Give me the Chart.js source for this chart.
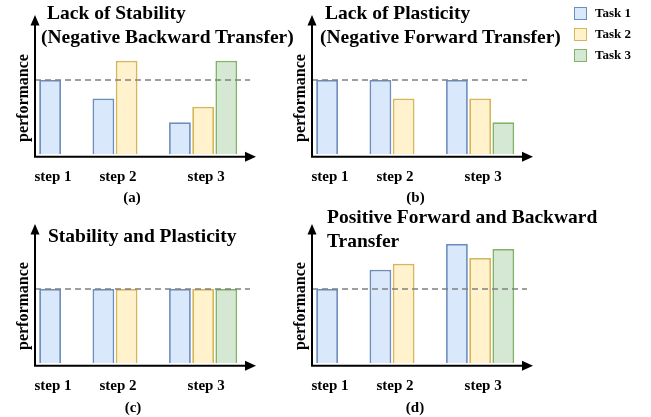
<!DOCTYPE html>
<html>
<head>
<meta charset="utf-8">
<script src="https://cdn.jsdelivr.net/npm/chart.js@4.4.1/dist/chart.umd.min.js"></script>
<style>
html,body{margin:0;padding:0;background:#fff;}
#wrap{position:relative;width:651px;height:417px;overflow:hidden;font-family:"Liberation Serif","Times New Roman",serif;font-weight:bold;color:#000;}
#wrap canvas{position:absolute;}
.t{position:absolute;white-space:nowrap;font-size:19.5px;line-height:24px;}
.c{position:absolute;white-space:nowrap;transform:translate(-50%,-50%);}
.ylab{font-size:16px;line-height:16px;transform:translate(-50%,-50%) rotate(-90deg);}
.cap{font-size:15px;line-height:15px;}
.lg{position:absolute;left:574px;height:20px;display:flex;align-items:center;font-size:13px;white-space:nowrap;}
.lg span.sw{display:inline-block;width:13px;height:13px;box-sizing:border-box;border:1.5px solid;margin-right:8px;}
</style>
</head>
<body>
<div id="wrap">
  <canvas id="cA" width="277" height="209" style="left:0;top:0"></canvas>
  <canvas id="cB" width="277" height="209" style="left:277px;top:0"></canvas>
  <canvas id="cC" width="277" height="209" style="left:0;top:209px"></canvas>
  <canvas id="cD" width="277" height="209" style="left:277px;top:209px"></canvas>

  <div class="t" style="left:47px;top:1px">Lack of Stability</div>
  <div class="t" style="left:41px;top:25px">(Negative Backward Transfer)</div>
  <div class="t" style="left:325px;top:1px">Lack of Plasticity</div>
  <div class="t" style="left:320px;top:25px">(Negative Forward Transfer)</div>
  <div class="t" style="left:48px;top:224px">Stability and Plasticity</div>
  <div class="t" style="left:327px;top:205px">Positive Forward and Backward</div>
  <div class="t" style="left:327px;top:229px">Transfer</div>

  <div class="c ylab" style="left:23px;top:97.5px">performance</div>
  <div class="c ylab" style="left:300px;top:97.5px">performance</div>
  <div class="c ylab" style="left:23px;top:306px">performance</div>
  <div class="c ylab" style="left:300px;top:306px">performance</div>

  <div class="c cap" style="left:132px;top:197px">(a)</div>
  <div class="c cap" style="left:415.5px;top:197px">(b)</div>
  <div class="c cap" style="left:133px;top:406.5px">(c)</div>
  <div class="c cap" style="left:415px;top:406.5px">(d)</div>

  <div id="legend"></div>
</div>
<script>
// ---- data ----
const stepLabels = ['step 1', 'step 2', 'step 3'];
const taskNames = ['Task 1', 'Task 2', 'Task 3'];
const referenceLevel = 1.0; // dashed line: performance right after learning a task

// (a) Lack of Stability
const perfA_task1 = [1.00, 0.75, 0.43];
const perfA_task2 = [null, 1.26, 0.64];
const perfA_task3 = [null, null, 1.26];
// (b) Lack of Plasticity
const perfB_task1 = [1.00, 1.00, 1.00];
const perfB_task2 = [null, 0.75, 0.75];
const perfB_task3 = [null, null, 0.43];
// (c) Stability and Plasticity
const perfC_task1 = [1.00, 1.00, 1.00];
const perfC_task2 = [null, 1.00, 1.00];
const perfC_task3 = [null, null, 1.00];
// (d) Positive Forward and Backward Transfer
const perfD_task1 = [1.00, 1.26, 1.61];
const perfD_task2 = [null, 1.34, 1.42];
const perfD_task3 = [null, null, 1.54];

// ---- styles ----
const fillColors = ['#dae8fc', '#fff2cc', '#d5e8d4'];
const borderColors = ['#6c8ebf', '#d6b656', '#82b366'];
const groupGap = 1.3;    // empty space between step groups, in bar slots
const xMin = -0.65, xMax = 8.88, yMax = 1.878;

// legend
const lg = document.getElementById('legend');
const legendCenters = [13.3, 34, 55];
taskNames.forEach((n, i) => {
  const d = document.createElement('div');
  d.className = 'lg';
  d.style.top = (legendCenters[i] - 10) + 'px';
  d.innerHTML = '<span class="sw" style="background:' + fillColors[i] + ';border-color:' + borderColors[i] + '"></span>' + n;
  lg.appendChild(d);
});

const axesPlugin = {
  id: 'axesArrows',
  afterDatasetsDraw(chart) {
    const {ctx, chartArea: a, scales: {y}} = chart;
    const yr = y.getPixelForValue(referenceLevel);
    ctx.save();
    // dashed reference line
    ctx.strokeStyle = '#808080';
    ctx.lineWidth = 1.5;
    ctx.setLineDash([6, 4]);
    ctx.beginPath();
    ctx.moveTo(a.left, yr);
    ctx.lineTo(a.right - 6, yr);
    ctx.stroke();
    ctx.setLineDash([]);
    // axes
    const ya = a.bottom + 2.8;
    ctx.strokeStyle = '#000';
    ctx.fillStyle = '#000';
    ctx.lineWidth = 2;
    ctx.beginPath();
    ctx.moveTo(a.left, ya + 1);
    ctx.lineTo(a.left, a.top + 8);
    ctx.moveTo(a.left - 1, ya);
    ctx.lineTo(a.right - 8, ya);
    ctx.stroke();
    ctx.beginPath();
    ctx.moveTo(a.left, a.top);
    ctx.lineTo(a.left - 4.5, a.top + 10.5);
    ctx.lineTo(a.left + 4.5, a.top + 10.5);
    ctx.closePath();
    ctx.fill();
    ctx.beginPath();
    ctx.moveTo(a.right, ya);
    ctx.lineTo(a.right - 11, ya - 5);
    ctx.lineTo(a.right - 11, ya + 5);
    ctx.closePath();
    ctx.fill();
    ctx.restore();
  }
};

function makePanel(canvasId, series) {
  // bar-slot offsets for each step group, derived from how many tasks exist at that step
  const counts = stepLabels.map((_, i) => series.filter(s => s[i] !== null).length);
  const offsets = [];
  let off = 0;
  counts.forEach(n => { offsets.push(off); off += n + groupGap; });
  const centers = offsets.map((o, i) => o + (counts[i] - 1) / 2);

  const datasets = series.map((vals, j) => ({
    label: taskNames[j],
    data: vals.map((v, i) => v === null ? null : {x: offsets[i] + j, y: v}).filter(p => p !== null),
    backgroundColor: fillColors[j],
    borderColor: borderColors[j],
    borderWidth: 1.8,
    grouped: false,
    categoryPercentage: 1,
    barPercentage: 0.94
  }));

  return new Chart(document.getElementById(canvasId), {
    type: 'bar',
    data: {datasets},
    options: {
      responsive: false,
      animation: false,
      layout: {padding: {left: 35, top: 15, right: 21, bottom: 0}},
      plugins: {legend: {display: false}, tooltip: {enabled: false}},
      scales: {
        x: {
          type: 'linear',
          offset: false,
          min: xMin, max: xMax,
          bounds: 'data',
          grid: {display: false, drawTicks: false, offset: false},
          border: {display: false},
          afterBuildTicks: s => { s.ticks = centers.map(v => ({value: v})); },
          afterFit: s => { s.height = 55; },
          ticks: {
            autoSkip: false, maxRotation: 0, padding: 14, labelOffset: 3, color: '#000',
            font: {family: '"Liberation Serif", "Times New Roman", serif', weight: 'bold', size: 15},
            callback: (v, i) => stepLabels[i]
          }
        },
        y: {
          display: false,
          min: 0, max: yMax
        }
      }
    },
    plugins: [axesPlugin]
  });
}

makePanel('cA', [perfA_task1, perfA_task2, perfA_task3]);
makePanel('cB', [perfB_task1, perfB_task2, perfB_task3]);
makePanel('cC', [perfC_task1, perfC_task2, perfC_task3]);
makePanel('cD', [perfD_task1, perfD_task2, perfD_task3]);
</script>
</body>
</html>
